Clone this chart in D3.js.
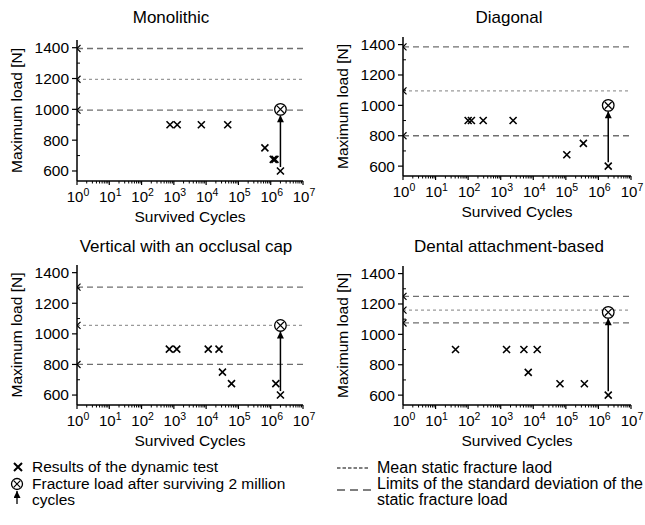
<!DOCTYPE html>
<html>
<head>
<meta charset="utf-8">
<script src="https://cdn.jsdelivr.net/npm/d3@7"></script>
<style>
  body { margin: 0; background: #fff; }
  text { font-family: "Liberation Sans", Arial, sans-serif; fill: #000; }
</style>
</head>
<body>
<svg></svg>
<script>
// chart data
var panelTitles = ["Monolithic", "Diagonal", "Vertical with an occlusal cap", "Dental attachment-based"];

var monoCycles = [760, 1270, 7100, 46600, 660000, 1200000, 1350000, 2000000];
var monoLoads  = [900, 900, 900, 900, 750, 675, 675, 600];
var diagCycles = [100, 126, 290, 2400, 107000, 345000, 2000000];
var diagLoads  = [900, 900, 900, 900, 675, 750, 600];
var vertCycles = [725, 1230, 11600, 25000, 32000, 61000, 1440000, 2000000];
var vertLoads  = [900, 900, 900, 900, 750, 675, 675, 600];
var dentCycles = [41, 1510, 5150, 13200, 7000, 66000, 370000, 2000000];
var dentLoads  = [900, 900, 900, 900, 750, 675, 675, 600];

var fractureCycles = [2000000, 2000000, 2000000, 2000000];
var fractureLoads  = [1000, 1000, 1055, 1145];
var meanLoads      = [1195, 1095, 1055, 1160];
var sdUpper        = [1395, 1385, 1305, 1250];
var sdLower        = [995, 800, 800, 1075];

var yTicks = [600, 800, 1000, 1200, 1400];
var yMinor = [700, 900, 1100, 1300];
var xExponents = [0, 1, 2, 3, 4, 5, 6, 7];

var panelCycles = [monoCycles, diagCycles, vertCycles, dentCycles];
var panelLoads = [monoLoads, diagLoads, vertLoads, dentLoads];

// plot boxes (left, right, top, bottom) and title anchor
var boxes = [
  [77, 303, 40, 181],
  [403, 631, 37, 176],
  [77, 303, 265, 405],
  [403, 631, 266, 405]
];
var titlePos = [[171, 23], [509, 23], [186, 252], [509, 252]];

var width = 645, height = 525;
var svg = d3.select("svg").attr("width", width).attr("height", height);

var defs = svg.append("defs");
defs.append("marker")
    .attr("id", "arrowhead")
    .attr("viewBox", "0 0 10 10")
    .attr("refX", 10).attr("refY", 5)
    .attr("markerWidth", 8).attr("markerHeight", 7)
    .attr("markerUnits", "userSpaceOnUse")
    .attr("orient", "auto")
  .append("path")
    .attr("d", "M0,0L10,5L0,10Z")
    .attr("fill", "#000");

function cross(g, x, y, r, w) {
  g.append("path")
    .attr("d", "M" + (x - r) + "," + (y - r) + "L" + (x + r) + "," + (y + r) +
               "M" + (x - r) + "," + (y + r) + "L" + (x + r) + "," + (y - r))
    .attr("stroke", "#000").attr("stroke-width", w).attr("fill", "none");
}

panelTitles.forEach(function(title, i) {
  var b = boxes[i];
  var x = d3.scaleLog().domain([1, 1e7]).range([b[0], b[1]]);
  var y = d3.scaleLinear().domain([535, 1450]).range([b[3], b[2]]);
  var g = svg.append("g");

  defs.append("clipPath").attr("id", "clip" + i)
    .append("rect")
    .attr("x", b[0]).attr("y", b[2])
    .attr("width", b[1] - b[0] + 2).attr("height", b[3] - b[2]);

  // title
  g.append("text")
    .attr("x", titlePos[i][0]).attr("y", titlePos[i][1])
    .attr("text-anchor", "middle").attr("font-size", 17)
    .text(title);

  // reference lines
  var refs = [
    {v: sdUpper[i], dash: "6,4", col: "#6f6f6f"},
    {v: meanLoads[i], dash: "3,3", col: "#9a9a9a"},
    {v: sdLower[i], dash: "6,4", col: "#6f6f6f"}
  ];
  var clipG = g.append("g").attr("clip-path", "url(#clip" + i + ")");
  refs.forEach(function(r) {
    clipG.append("line")
      .attr("x1", b[0]).attr("x2", b[1])
      .attr("y1", y(r.v)).attr("y2", y(r.v))
      .attr("stroke", r.col).attr("stroke-width", 1.3)
      .attr("stroke-dasharray", r.dash);
    cross(clipG, x(1), y(r.v), 3.5, 1.2);
  });

  // y axis
  g.append("line").attr("x1", b[0]).attr("x2", b[0])
    .attr("y1", b[2]).attr("y2", b[3]).attr("stroke", "#000").attr("stroke-width", 1.5);
  yTicks.forEach(function(t) {
    g.append("line").attr("x1", b[0] - 5).attr("x2", b[0])
      .attr("y1", y(t)).attr("y2", y(t)).attr("stroke", "#000").attr("stroke-width", 1.2);
    g.append("text").attr("x", b[0] - 8).attr("y", y(t))
      .attr("dy", "0.35em").attr("text-anchor", "end").attr("font-size", 15.5)
      .text(t);
  });
  yMinor.forEach(function(t) {
    g.append("line").attr("x1", b[0]).attr("x2", b[0] + 3)
      .attr("y1", y(t)).attr("y2", y(t)).attr("stroke", "#000").attr("stroke-width", 1);
  });
  g.append("text")
    .attr("transform", "translate(" + (b[0] - 55) + "," + ((b[2] + b[3]) / 2) + ") rotate(-90)")
    .attr("text-anchor", "middle").attr("font-size", 15.5)
    .text("Maximum load [N]");

  // x axis
  g.append("line").attr("x1", b[0]).attr("x2", b[1])
    .attr("y1", b[3]).attr("y2", b[3]).attr("stroke", "#000").attr("stroke-width", 1.5);
  xExponents.forEach(function(e) {
    var v = Math.pow(10, e);
    g.append("line").attr("x1", x(v)).attr("x2", x(v))
      .attr("y1", b[3]).attr("y2", b[3] + 4).attr("stroke", "#000").attr("stroke-width", 1.2);
    var t = g.append("text").attr("x", x(v) + 1).attr("y", b[3] + 21)
      .attr("text-anchor", "middle").attr("font-size", 15);
    t.append("tspan").text("10");
    t.append("tspan").attr("dy", -6).attr("font-size", 10.5).text(e);
    if (e < 7) {
      for (var k = 2; k < 10; k++) {
        g.append("line").attr("x1", x(k * v)).attr("x2", x(k * v))
          .attr("y1", b[3]).attr("y2", b[3] + 2.5).attr("stroke", "#000").attr("stroke-width", 1);
      }
    }
  });
  g.append("text")
    .attr("x", (b[0] + b[1]) / 2).attr("y", b[3] + 41)
    .attr("text-anchor", "middle").attr("font-size", 15.5)
    .text("Survived Cycles");

  // arrow from survived point to fracture load
  var fx = x(fractureCycles[i]);
  g.append("line")
    .attr("x1", fx).attr("x2", fx)
    .attr("y1", y(600) - 4).attr("y2", y(fractureLoads[i]) + 6)
    .attr("stroke", "#000").attr("stroke-width", 1.5)
    .attr("marker-end", "url(#arrowhead)");

  // dynamic test results
  panelCycles[i].forEach(function(c, j) {
    cross(g, x(c), y(panelLoads[i][j]), 3.5, 1.6);
  });

  // fracture load marker
  g.append("circle").attr("cx", fx).attr("cy", y(fractureLoads[i])).attr("r", 5.8)
    .attr("fill", "#fff").attr("stroke", "#000").attr("stroke-width", 1.3);
  cross(g, fx, y(fractureLoads[i]), 3.4, 1.2);
});

// legend
var lg = svg.append("g");
cross(lg, 18, 467, 4, 2);
lg.append("text").attr("x", 32).attr("y", 472).attr("font-size", 15.5).text("Results of the dynamic test");
lg.append("circle").attr("cx", 17).attr("cy", 484).attr("r", 5.5)
  .attr("fill", "#fff").attr("stroke", "#000").attr("stroke-width", 1.3);
cross(lg, 17, 484, 3.3, 1.2);
lg.append("line").attr("x1", 17).attr("x2", 17).attr("y1", 504).attr("y2", 491)
  .attr("stroke", "#000").attr("stroke-width", 1.3).attr("marker-end", "url(#arrowhead)");
lg.append("text").attr("x", 32).attr("y", 489).attr("font-size", 15.5).text("Fracture load after surviving 2 million");
lg.append("text").attr("x", 32).attr("y", 505).attr("font-size", 15.5).text("cycles");

lg.append("line").attr("x1", 337).attr("x2", 370).attr("y1", 468).attr("y2", 468)
  .attr("stroke", "#000").attr("stroke-width", 1.2).attr("stroke-dasharray", "3.5,2");
lg.append("text").attr("x", 377).attr("y", 473).attr("font-size", 16).text("Mean static fracture laod");
lg.append("line").attr("x1", 337).attr("x2", 371).attr("y1", 490).attr("y2", 490)
  .attr("stroke", "#000").attr("stroke-width", 1.2).attr("stroke-dasharray", "8,5");
lg.append("text").attr("x", 377).attr("y", 489).attr("font-size", 16).text("Limits of the standard deviation of the");
lg.append("text").attr("x", 377).attr("y", 505).attr("font-size", 16).text("static fracture load");
</script>
</body>
</html>
